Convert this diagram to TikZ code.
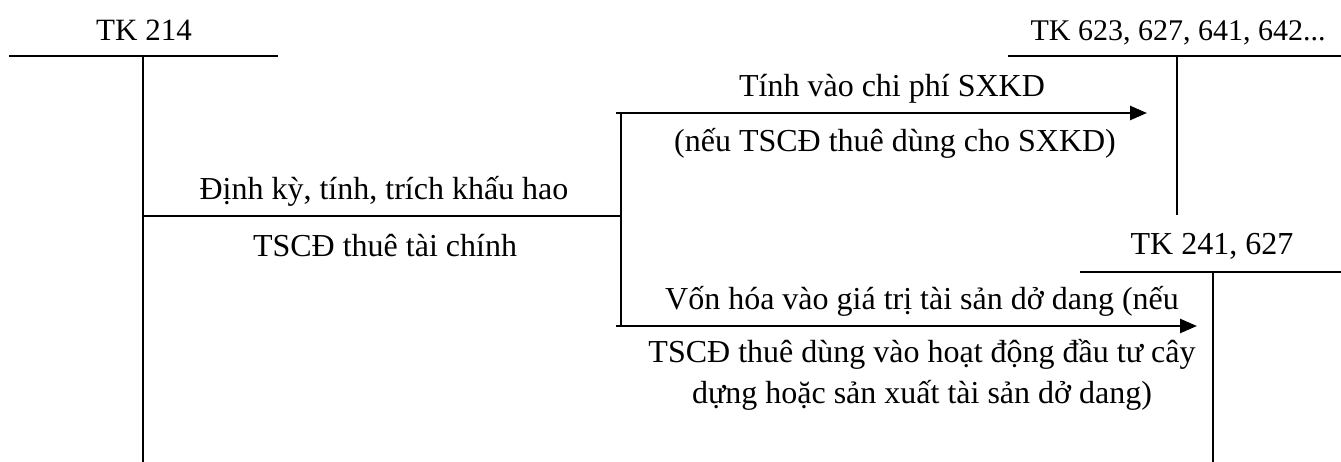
\documentclass[tikz,border=0pt]{standalone}
\usepackage{fontspec}
\setmainfont{Liberation Serif}
\usetikzlibrary{arrows.meta}
\begin{document}
\begin{tikzpicture}[x=1pt,y=-1pt,line width=2.5pt,>={Triangle[length=17pt,width=14pt]}]
	\tikzset{acct/.style={font=\fontsize{#1}{#1}\selectfont},
		txt/.style={font=\fontsize{32}{41}\selectfont,align=center}}
	\useasboundingbox (0,0) rectangle (1341,462);
	% TK 214
	\coordinate (a1) at (9,56); \coordinate (a2) at (278,56);
	\coordinate (a3) at (143,56); \coordinate (a4) at (143,462);
	\draw (a1)--(a2); \draw (a3)--(a4);
	\node[acct=31] (tk214) at (144,30) {TK 214};
	% TK 623, 627, 641, 642
	\coordinate (b1) at (1008,56); \coordinate (b2) at (1341,56);
	\coordinate (b3) at (1177,56); \coordinate (b4) at (1177,215);
	\draw (b1)--(b2); \draw (b3)--(b4);
	\node[acct=30] (tk623) at (1178,33) {TK 623, 627, 641, 642...};
	% TK 241, 627
	\coordinate (c1) at (1080,272); \coordinate (c2) at (1341,272);
	\coordinate (c3) at (1213,272); \coordinate (c4) at (1213,462);
	\draw (c1)--(c2); \draw (c3)--(c4);
	\node[acct=32] (tk241) at (1212,246) {TK 241, 627};
	% khau hao
	\coordinate (s) at (143,216); \coordinate (j) at (621,216);
	\coordinate (j1) at (621,113); \coordinate (j2) at (621,326);
	\coordinate (e1) at (1147,113); \coordinate (e2) at (1197,326);
	\draw (s)--(j); \draw (j1)--(j2);
	\draw[->] ([xshift=-5]j1)--(e1);
	\draw[->] ([xshift=-5]j2)--(e2);
	\node[txt] (kh1) at (384,191) {Định kỳ, tính, trích khấu hao};
	\node[txt] (kh2) at (385,246) {TSCĐ thuê tài chính};
	\node[txt] (cp1) at (892,89) {Tính vào chi phí SXKD};
	\node[txt] (cp2) at (895,143) {(nếu TSCĐ thuê dùng cho SXKD)};
	\node[txt] (vh1) at (922,301) {Vốn hóa vào giá trị tài sản dở dang (nếu};
	\node[txt] (vh2) at (922,375) {TSCĐ thuê dùng vào hoạt động đầu tư cây\\dựng hoặc sản xuất tài sản dở dang)};
\end{tikzpicture}
\end{document}
